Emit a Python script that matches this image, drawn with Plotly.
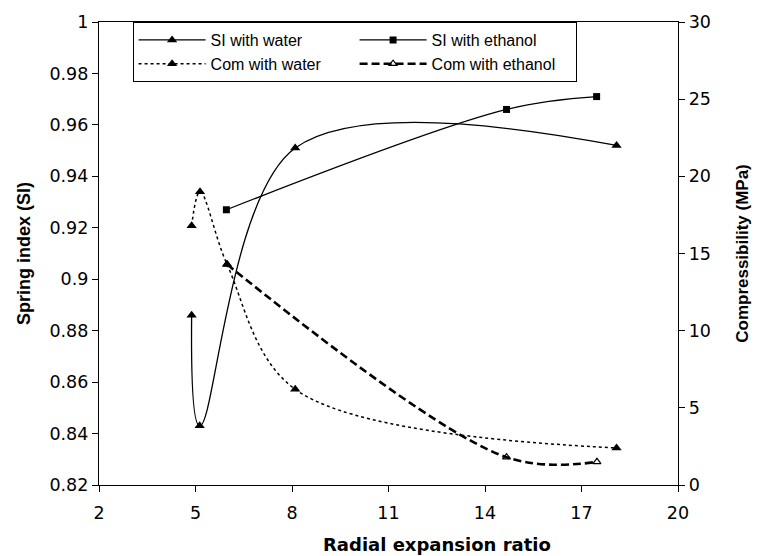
import plotly.graph_objects as go

# Data
x_si_water = [4.88, 5.13, 8.10, 18.09]
si_water = [0.886, 0.843, 0.951, 0.952]

x_si_ethanol = [5.96, 14.67, 17.47]
si_ethanol = [0.927, 0.966, 0.971]

x_com_water = [4.88, 5.14, 5.98, 8.10, 18.09]
com_water = [16.8, 19.0, 14.3, 6.2, 2.4]

x_com_ethanol = [5.98, 14.67, 17.48]
com_ethanol = [14.3, 1.8, 1.5]

x_ticks = [2, 5, 8, 11, 14, 17, 20]
y_left_ticks = [0.82, 0.84, 0.86, 0.88, 0.9, 0.92, 0.94, 0.96, 0.98, 1]
y_left_text = ["0.82", "0.84", "0.86", "0.88", "0.9", "0.92", "0.94", "0.96", "0.98", "1"]
y_right_ticks = [0, 5, 10, 15, 20, 25, 30]

FONT = "Liberation Sans, Arial, sans-serif"
TICKFONT = "DejaVu Sans, sans-serif"

fig = go.Figure()

fig.add_trace(go.Scatter(
    x=x_si_water, y=si_water, name="SI with water", mode="lines+markers",
    line=dict(color="black", width=1.3, shape="spline", smoothing=1),
    marker=dict(symbol="triangle-up", size=9, color="black"),
    yaxis="y"))

fig.add_trace(go.Scatter(
    x=x_si_ethanol, y=si_ethanol, name="SI with ethanol", mode="lines+markers",
    line=dict(color="black", width=1.3, shape="spline", smoothing=1),
    marker=dict(symbol="square", size=7, color="black"),
    yaxis="y"))

fig.add_trace(go.Scatter(
    x=x_com_water, y=com_water, name="Com with water", mode="lines+markers",
    line=dict(color="black", width=1.5, shape="spline", smoothing=1, dash="dot"),
    marker=dict(symbol="triangle-up", size=9, color="black"),
    yaxis="y2"))

fig.add_trace(go.Scatter(
    x=x_com_ethanol, y=com_ethanol, name="Com with ethanol", mode="lines+markers",
    line=dict(color="black", width=2.6, shape="spline", smoothing=1, dash="8px,4px"),
    marker=dict(symbol="triangle-up-open", size=7, color="black", line=dict(width=1.2)),
    yaxis="y2"))

axis_common = dict(
    showgrid=False, zeroline=False, showline=True, linecolor="black", linewidth=1.3,
    ticks="outside", ticklen=6, tickcolor="black", tickwidth=1.2,
    tickfont=dict(family=TICKFONT, size=17.5, color="black"),
)

fig.update_layout(
    width=761, height=556,
    margin=dict(l=99, r=80, t=17, b=71),
    paper_bgcolor="white", plot_bgcolor="white",
    font=dict(family=FONT, color="black"),
    xaxis=dict(
        range=[2, 20], tickvals=x_ticks, mirror=True, ticklabelstandoff=6,
        **axis_common),
    yaxis=dict(
        range=[0.82, 1], tickvals=y_left_ticks, ticktext=y_left_text,
        title=dict(text="<b>Spring index (SI)</b>", font=dict(family=FONT, size=18), standoff=14),
        **axis_common),
    yaxis2=dict(
        range=[0, 30], tickvals=y_right_ticks, overlaying="y", side="right",
        title=dict(text="<b>Compressibility (MPa)</b>", font=dict(family=FONT, size=17), standoff=26),
        **axis_common),
    annotations=[dict(
        text="<b>Radial expansion ratio</b>", xref="paper", yref="paper",
        x=0.583, y=-0.1276, xanchor="center", yanchor="middle", showarrow=False,
        font=dict(family=TICKFONT, size=18, color="black"))],
    showlegend=True,
    legend=dict(
        orientation="h", x=0.058, y=1.0, xanchor="left", yanchor="top",
        entrywidth=139, itemwidth=67, traceorder="normal",
        bgcolor="white", bordercolor="black", borderwidth=1,
        font=dict(family=FONT, size=16, color="black"),
    ),
)

fig.write_html("out.html")
